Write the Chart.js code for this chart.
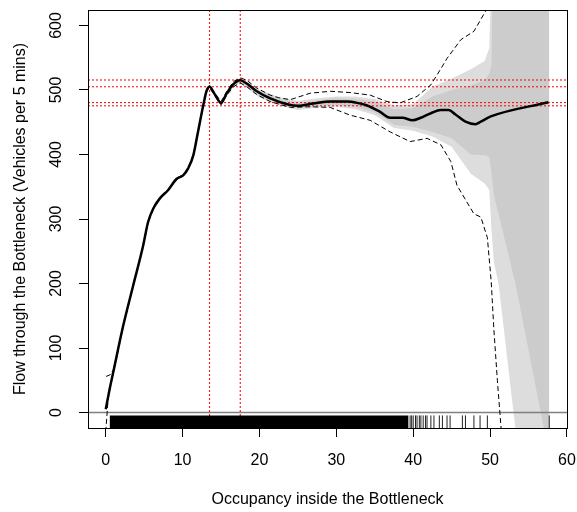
<!DOCTYPE html>
<html>
<head>
<meta charset="utf-8">
<script src="https://cdn.jsdelivr.net/npm/chart.js@4.4.0/dist/chart.umd.min.js"></script>
<style>
  html, body { margin: 0; padding: 0; background: #fff; }
  #wrap { width: 577px; height: 512px; }
</style>
</head>
<body>
<div id="wrap"><canvas id="flowChart" width="577" height="512"></canvas></div>
<script>
// fitted flow-occupancy curve
const fitX = [0, 0.5, 1.0, 2.26, 3.57, 4.87, 5.5, 6.17, 7.04, 8.13, 9.2, 10.1, 10.7, 11.4, 12.0, 12.7, 13.1, 13.5,
  14.2, 15.0, 15.7, 16.6, 17.5, 18.35, 19.65, 21.4, 23.6, 25.0, 27.0, 29.2, 31.4, 32.7, 34.0, 35.7, 37.0, 38.6,
  39.9, 41.0, 42.3, 43.6, 44.6, 45.5, 46.8, 48.1, 48.8, 50.1, 57.6];
const fitY = [5, 36, 64, 134, 197, 259, 295, 316, 332, 345, 362, 368, 378, 399, 435, 477, 498, 505,
  493, 480, 494, 509, 515, 510, 498, 487, 478, 475.5, 479, 482, 482, 480, 476, 466, 457, 457,
  453, 457, 464, 469, 469, 462, 451, 447, 451, 459, 481];

// dashed upper / lower bounds
const upperX = [0.05, 0.5, 1.0, 2.26, 3.57, 4.87, 5.5, 6.17, 7.04, 8.13, 9.2, 10.1, 10.7, 11.4, 12.0, 12.7, 13.1, 13.5,
  14.2, 15.0, 15.7, 16.6, 17.5, 18.35, 19.65, 21.4, 22.5, 24.0, 26.6, 29.2, 31.8, 34.4, 36.6, 38.3, 40.5, 42.3,
  43.6, 44.4, 46.2, 47.9, 49.65, 50.3];
const upperY = [56, 58, 66, 135, 198, 260, 296, 317, 333, 346, 363, 369, 379, 400, 436, 478, 499, 507,
  495, 482, 497, 513, 519, 515, 503, 492, 488, 485, 495, 498, 496, 492, 482, 480, 490, 508,
  533, 549, 578, 591, 627, 700];
const lowerX = [0.0, 0.3, 0.6, 1.0, 2.26, 3.57, 4.87, 5.5, 6.17, 7.04, 8.13, 9.2, 10.1, 10.7, 11.4, 12.0, 12.7, 13.1, 13.5,
  14.2, 15.0, 15.7, 16.6, 17.5, 18.35, 19.65, 21.4, 24.0, 26.6, 29.2, 31.8, 34.4, 37.0, 39.6, 41.8, 43.6,
  44.9, 45.7, 47.9, 48.8, 49.65, 50.15, 50.5, 50.95, 51.4, 51.6];
const lowerY = [-30, 20, 42, 62, 133, 196, 258, 294, 315, 331, 344, 361, 367, 377, 398, 434, 476, 497, 503,
  491, 477, 491, 505, 511, 505, 493, 482, 473, 474, 473, 461, 453, 435, 420, 425, 415,
  389, 352, 308, 303, 271, 203, 128, 50, -19, -50];

// shaded bands
const bandX   = [16, 17.5, 20, 22.5, 25, 27.5, 30, 32.5, 35, 37.5, 40, 42.5, 45, 47.5, 49.3, 49.9, 50.2, 50.5, 51.1, 53.05, 53.3, 56.6, 57.7];
const darkHi  = [501, 517, 498, 486, 480, 484, 487, 486, 482, 470, 472, 490, 500, 507, 515, 525, 540, 900, 900, 900, 900, 900, 900];
const darkLo  = [499, 513, 490, 479, 472, 476, 477, 474, 465, 446, 443, 435, 425, 400, 399, 396, 370, 337, 308, 212, 200, 0, -66];
const lightHi = [502, 518, 500, 489, 483, 487, 490, 490, 486, 476, 478, 505, 518, 532, 545, 565, 700, 900, 900, 900, 900, 900, 900];
const lightLo = [498, 512, 488, 476, 469, 473, 474, 470, 461, 441, 437, 428, 412, 370, 355, 345, 280, 233, 200, 0, -25, -362, -474];

// reference lines
const redH = [515.5, 505, 480.5, 475.5];
const redV = [13.5, 17.5];

// rug
const rugSolid = [0.5, 39.4];
const rugTicks = [39.6, 39.8, 40.0, 40.3, 40.5, 40.8, 41.0, 41.3, 41.6, 41.8,
  42.3, 42.7, 43.4, 43.8, 44.4, 44.8, 46.4, 46.8, 47.9, 48.7, 49.65, 57.7];

const xTicks = [0, 10, 20, 30, 40, 50, 60];
const yTicks = [0, 100, 200, 300, 400, 500, 600];

const X_MIN = -2.31, X_MAX = 60.01, Y_MIN = -24, Y_MAX = 624;
const rugTop = Y_MIN + 0.03 * (Y_MAX - Y_MIN);
const FONT = "'Liberation Sans', Arial, sans-serif";
const RED = "rgb(250,20,20)";

const pts = (xs, ys) => xs.map((x, i) => ({ x: x, y: ys[i] }));

const datasets = [];

// rug ticks (top of drawing order)
datasets.push({
    data: rugTicks.map(x => ({ x: x, y: (Y_MIN + rugTop) / 2 })),
    showLine: false,
    pointStyle: "line",
    pointRotation: 90,
    pointRadius: 6.3,
    pointBorderWidth: 1,
    pointBorderColor: "#222",
    clip: false
});
datasets.push({
    data: [{ x: rugSolid[0], y: rugTop }, { x: rugSolid[1], y: rugTop }],
    fill: "start",
    backgroundColor: "#000",
    borderColor: "rgba(0,0,0,0)",
    borderWidth: 0,
    pointRadius: 0
});

// fit + bounds
datasets.push({
    data: pts(fitX, fitY),
    borderColor: "#000",
    borderWidth: 2.5,
    cubicInterpolationMode: "monotone",
    pointRadius: 0,
    fill: false
});
datasets.push({
    data: pts(upperX, upperY),
    borderColor: "#000",
    borderWidth: 1,
    borderDash: [5, 3],
    pointRadius: 0,
    fill: false
});
datasets.push({
    data: pts(lowerX, lowerY),
    borderColor: "#000",
    borderWidth: 1,
    borderDash: [5, 3],
    pointRadius: 0,
    fill: false
});

// red dotted lines
for (const v of redV) {
    datasets.push({
        data: [{ x: v, y: Y_MIN }, { x: v, y: Y_MAX }],
        borderColor: RED, backgroundColor: RED, borderWidth: 1.1, borderDash: [2, 2], pointRadius: 0, fill: false
    });
}
for (const v of redH) {
    datasets.push({
        data: [{ x: X_MIN, y: v }, { x: X_MAX, y: v }],
        borderColor: RED, backgroundColor: RED, borderWidth: 1.1, borderDash: [2, 2], pointRadius: 0, fill: false
    });
}

// zero line
datasets.push({
    data: [{ x: X_MIN, y: 0 }, { x: X_MAX, y: 0 }],
    borderColor: "#808080", borderWidth: 1.5, pointRadius: 0, fill: false
});

// bands (drawn first)
const band = (hi, lo, color) => {
    datasets.push({
        data: pts(bandX, hi), fill: "+1", backgroundColor: color,
        borderColor: "rgba(0,0,0,0)", borderWidth: 0, pointRadius: 0
    });
    datasets.push({
        data: pts(bandX, lo), fill: false,
        borderColor: "rgba(0,0,0,0)", borderWidth: 0, pointRadius: 0
    });
};
band(darkHi, darkLo, "#cccccc");
band(lightHi, lightLo, "#dddddd");

const plotBox = {
    id: "plotBox",
    afterDatasetsDraw(chart) {
        const { ctx, chartArea: a } = chart;
        const al = p => Math.round(p - 0.5) + 0.5;
        ctx.save();
        ctx.strokeStyle = "#000";
        ctx.lineWidth = 1;
        ctx.strokeRect(al(a.left), al(a.top), al(a.right) - al(a.left), al(a.bottom) - al(a.top));
        ctx.restore();
    }
};

const axisGrid = { display: true, drawOnChartArea: false, drawTicks: true, tickLength: 9, color: "#000", lineWidth: 1 };

new Chart(document.getElementById("flowChart"), {
    type: "line",
    data: { datasets: datasets },
    plugins: [plotBox],
    options: {
        responsive: false,
        animation: false,
        devicePixelRatio: 1,
        events: [],
        layout: { padding: { left: 0, right: 10, top: 10, bottom: 0 } },
        plugins: { legend: { display: false }, tooltip: { enabled: false } },
        elements: { line: { tension: 0 } },
        scales: {
            x: {
                type: "linear",
                min: X_MIN,
                max: X_MAX,
                afterBuildTicks: s => { s.ticks = xTicks.map(v => ({ value: v })); },
                afterFit: s => { s.height = 84; s.paddingLeft = 0; s.paddingRight = 0; },
                grid: axisGrid,
                border: { display: true, color: "#000", width: 1 },
                ticks: { color: "#000", font: { family: FONT, size: 16 }, padding: 14, maxRotation: 0, autoSkip: false },
                title: {
                    display: true, text: "Occupancy inside the Bottleneck", color: "#000",
                    font: { family: FONT, size: 16 }, padding: { top: 0, bottom: 3 }
                }
            },
            y: {
                type: "linear",
                min: Y_MIN,
                max: Y_MAX,
                afterBuildTicks: s => { s.ticks = yTicks.map(v => ({ value: v })); },
                afterFit: s => { s.width = 88; s.paddingTop = 0; s.paddingBottom = 0; },
                grid: axisGrid,
                border: { display: true, color: "#000", width: 1 },
                ticks: {
                    color: "#000", font: { family: FONT, size: 16 }, padding: 9,
                    minRotation: 90, maxRotation: 90, crossAlign: "center", autoSkip: false
                },
                title: {
                    display: true, text: "Flow through the Bottleneck (Vehicles per 5 mins)", color: "#000",
                    font: { family: FONT, size: 16 }, padding: { top: 11, bottom: 0 }
                }
            }
        }
    }
});
</script>
</body>
</html>
